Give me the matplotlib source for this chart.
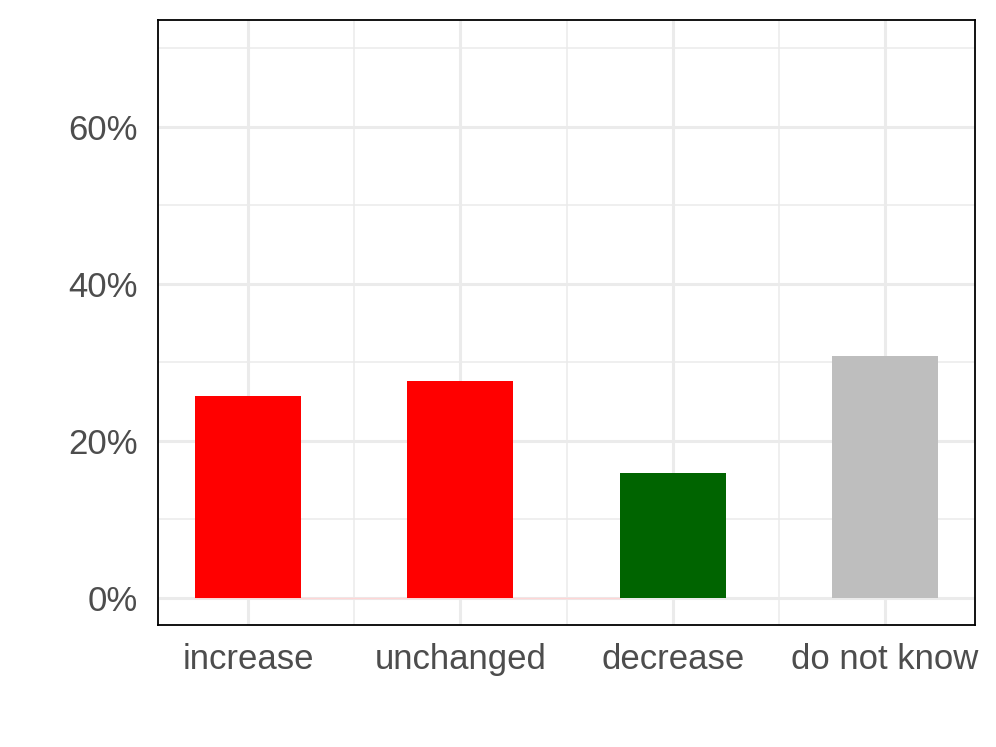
import numpy as np
import matplotlib.pyplot as plt
from matplotlib.ticker import FixedLocator, FuncFormatter

# answers and their shares (percent)
categories = ["increase", "unchanged", "decrease", "do not know"]
shares     = [25.75, 27.65, 15.95, 30.85]
bar_colors = ["#FF0000", "#FF0000", "#006400", "#BEBEBE"]

y_major = [0, 20, 40, 60]
y_minor = [10, 30, 50, 70]

plt.rcParams['font.family'] = ['Liberation Sans', 'DejaVu Sans']

fig = plt.figure(figsize=(9.96, 7.47), dpi=100)
ax = fig.add_axes([158/996, 1 - 625/747, 817/996, 605/747])

x = np.arange(len(categories))

# grid, ggplot style
for v in y_major:
    ax.axhline(v, color='#EBEBEB', lw=2.2, zorder=0)
for v in y_minor:
    ax.axhline(v, color='#EBEBEB', lw=1.1, zorder=0)
for v in x:
    ax.axvline(v, color='#EBEBEB', lw=2.2, zorder=0)
for v in x[:-1] + 0.5:
    ax.axvline(v, color='#EBEBEB', lw=1.1, zorder=0)

# faint zero-height outlines between the bars
ax.plot([x[0] - 0.25, x[2] - 0.25], [0, 0], color='#FFD6D6', lw=1.0, zorder=1)

ax.bar(x, shares, width=0.5, color=bar_colors, zorder=2)

ax.set_xlim(-0.424, len(categories) - 1 + 0.424)
ax.set_ylim(-3.44, 73.6)

ax.set_xticks(x)
ax.set_xticklabels(categories)
ax.yaxis.set_major_locator(FixedLocator(y_major))
ax.yaxis.set_major_formatter(FuncFormatter(lambda v, p: "%d%%" % v))
ax.tick_params(axis='both', length=0, labelsize=25, labelcolor='#4D4D4D')
ax.tick_params(axis='x', pad=13)
ax.tick_params(axis='y', pad=14.4)

for s in ax.spines.values():
    s.set_color('black')
    s.set_linewidth(1.3)

fig.savefig("out.png", dpi=100)
